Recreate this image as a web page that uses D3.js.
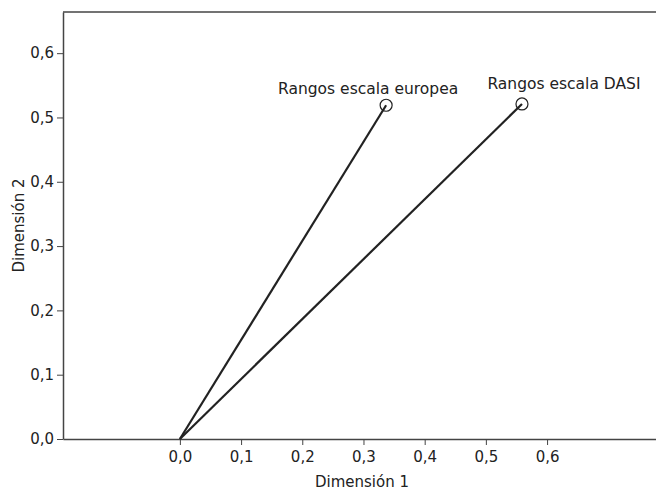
<!DOCTYPE html>
<html>
<head>
<meta charset="utf-8">
<script src="https://cdn.jsdelivr.net/npm/d3@7"></script>
<style>
  body { margin: 0; background: #fff; }
  text { font-family: "DejaVu Sans", Verdana, sans-serif; fill: #222; }
</style>
</head>
<body>
<svg class="biplot" width="656" height="492"></svg>
<script>
// data
var labels = ["Rangos escala europea", "Rangos escala DASI"];
var dim1 = [0.337, 0.559];
var dim2 = [0.519, 0.521];
var xTicks = [0, 0.1, 0.2, 0.3, 0.4, 0.5, 0.6];
var yTicks = [0, 0.1, 0.2, 0.3, 0.4, 0.5, 0.6];

var margin = {top: 12, right: 0, bottom: 53, left: 63};
var svg = d3.select(".biplot");
var w = svg.attr("width") - margin.left - margin.right;
var h = svg.attr("height") - margin.top - margin.bottom;

var xScale = d3.scaleLinear().domain([-0.191, 0.778]).range([0, w]);
var yScale = d3.scaleLinear().domain([0, 0.664]).range([h, 0]);
var fmt = function(d) { return d3.format(".1f")(d).replace(".", ","); };

var g = svg.append("g")
    .attr("transform", "translate(" + margin.left + "," + margin.top + ")");

// frame: top line
g.append("line")
    .attr("x1", 0).attr("x2", w).attr("y1", 0).attr("y2", 0)
    .attr("stroke", "#444").attr("stroke-width", 1.5);

// x-axis
var xAxis = d3.axisBottom(xScale).tickValues(xTicks).tickFormat(fmt).tickSize(6).tickSizeOuter(0);
var gx = g.append("g").attr("transform", "translate(0," + h + ")").call(xAxis);
gx.select(".domain").attr("stroke", "#444").attr("stroke-width", 1.5);

// y-axis
var yAxis = d3.axisLeft(yScale).tickValues(yTicks).tickFormat(fmt).tickSize(6).tickSizeOuter(0);
var gy = g.append("g").call(yAxis);
gy.select(".domain").attr("stroke", "#444").attr("stroke-width", 1.5);

[gx, gy].forEach(function(a) {
  a.attr("font-size", null).attr("font-family", null);
  a.selectAll(".tick line").attr("stroke", "#444");
  a.selectAll(".tick text").style("font-size", "15px").attr("fill", "#222");
});
gx.selectAll(".tick text").attr("dy", "0.93em");

// vectors
var pts = labels.map(function(l, i) { return {label: l, x: dim1[i], y: dim2[i]}; });
var labelDx = [-18, 42];
var labelDy = [-11, -15];

g.selectAll(".vec").data(pts).enter().append("line")
    .attr("class", "vec")
    .attr("x1", xScale(0)).attr("y1", yScale(0))
    .attr("x2", d => xScale(d.x)).attr("y2", d => yScale(d.y))
    .attr("stroke", "#222").attr("stroke-width", 2.2);

g.selectAll(".pt").data(pts).enter().append("circle")
    .attr("class", "pt")
    .attr("cx", d => xScale(d.x)).attr("cy", d => yScale(d.y))
    .attr("r", 6)
    .attr("fill", "none").attr("stroke", "#222").attr("stroke-width", 1.2);

g.selectAll(".lbl").data(pts).enter().append("text")
    .attr("class", "lbl")
    .attr("x", (d, i) => xScale(d.x) + labelDx[i])
    .attr("y", (d, i) => yScale(d.y) + labelDy[i])
    .attr("text-anchor", "middle")
    .style("font-size", "15.5px")
    .text(d => d.label);

// axis titles
svg.append("text")
    .attr("x", 362)
    .attr("y", 487)
    .attr("text-anchor", "middle")
    .style("font-size", "15px")
    .text("Dimensión 1");

svg.append("text")
    .attr("transform", "translate(24," + (margin.top + h / 2) + ") rotate(-90)")
    .attr("text-anchor", "middle")
    .style("font-size", "15px")
    .text("Dimensión 2");
</script>
</body>
</html>
